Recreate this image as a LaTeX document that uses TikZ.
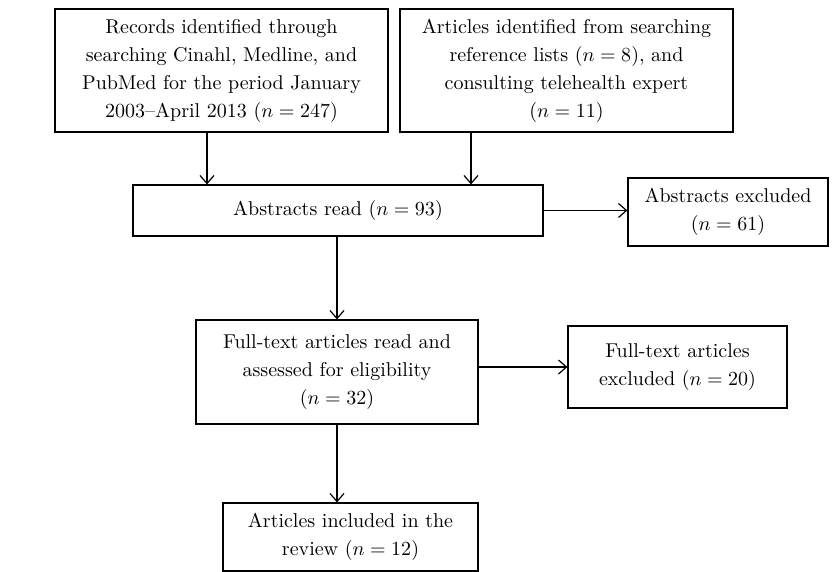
\documentclass[tikz,border=0pt]{standalone}
\usetikzlibrary{positioning,arrows.meta}
\begin{document}
\begin{tikzpicture}[x=0.5pt,y=-0.5pt,>={Straight Barb[length=4pt,width=7pt]},
        box/.style={draw, line width=0.6pt, align=center, inner sep=0pt, font=\fontsize{10}{14}\selectfont},
        link/.style={->, line width=0.6pt}]
        \useasboundingbox (0,0) rectangle (834,572);
        \node[box, minimum width=166.5pt, minimum height=61.5pt] (records) at (221.5,70.5) {Records identified through\\ searching Cinahl, Medline, and\\ PubMed for the period January\\ 2003--April 2013 ($n=247$)};
        \node[box, minimum width=166.5pt, minimum height=61.5pt] (extra) at (566.5,70.5) {Articles identified from searching\\ reference lists ($n=8$), and\\ consulting telehealth expert\\ ($n=11$)};
        \node[box, minimum width=205pt, minimum height=25.5pt] (abstracts) at (338,210.5) {Abstracts read ($n=93$)};
        \node[box, minimum width=100pt, minimum height=34pt] (absout) at (728,212) {Abstracts excluded\\ ($n=61$)};
        \node[box, minimum width=141pt, minimum height=52pt] (fulltext) at (337,372) {Full-text articles read and\\ assessed for eligibility\\ ($n=32$)};
        \node[box, minimum width=109.5pt, minimum height=41pt] (fullout) at (677.5,367) {Full-text articles\\ excluded ($n=20$)};
        \node[box, minimum width=127.5pt, minimum height=34pt] (included) at (350.5,537) {Articles included in the\\ review ($n=12$)};
        \coordinate (left) at (207,0);
        \coordinate (right) at (471,0);
        \draw[link] (records.south -| left) -- (abstracts.north -| left);
        \draw[link] (extra.south -| right) -- (abstracts.north -| right);
        \draw[link] (abstracts.east) -- (abstracts.east -| absout.west);
        \draw[link] (abstracts.south -| fulltext.north) -- (fulltext.north);
        \draw[link] (fulltext.east |- fullout.west) -- (fullout.west);
        \draw[link] (fulltext.south) -- (fulltext.south |- included.north);
    \end{tikzpicture}
\end{document}
